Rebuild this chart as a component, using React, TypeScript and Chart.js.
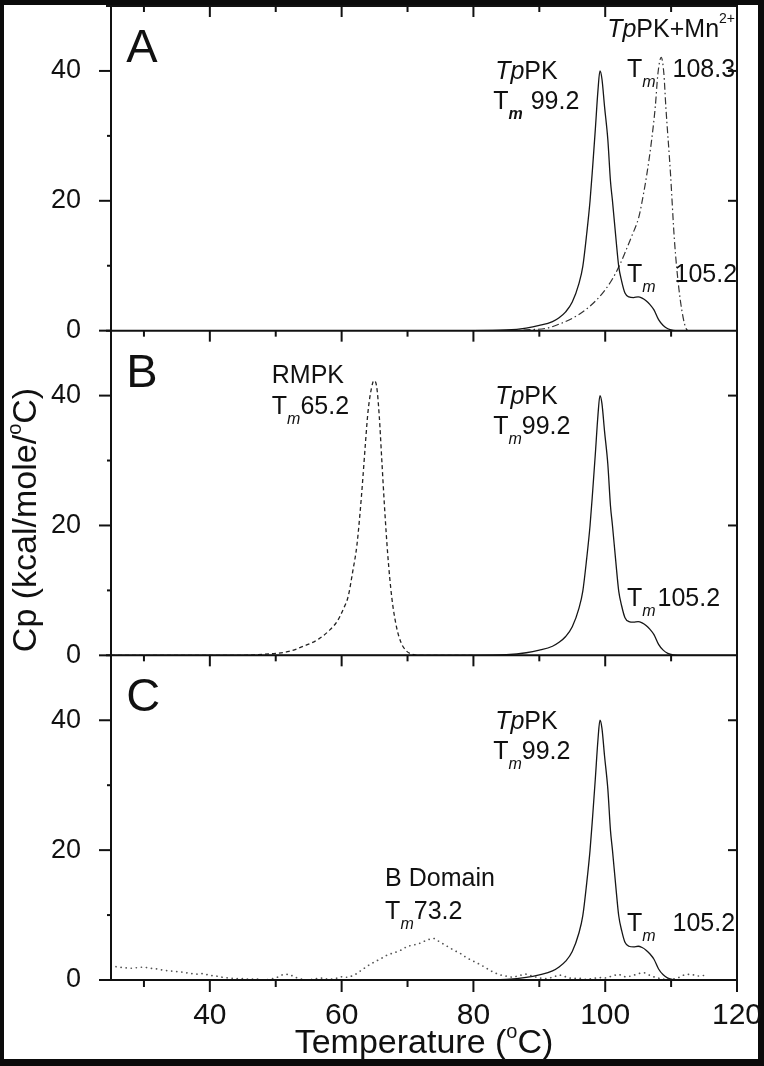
import React, { useEffect, useRef } from "react";
import { Chart, registerables } from "chart.js";

Chart.register(...registerables);

// ---------- data ----------
const xTickValues = [40, 60, 80, 100, 120];
const xMinorTickValues = [30, 50, 70, 90, 110];
const yTickValues = [0, 20, 40];
const yMinorTickValues = [10, 30];

// TpPK (solid, same trace in all three panels)
const tppkT = [25, 80, 85, 88, 90, 92, 93, 94, 95, 96, 96.6, 97.2, 97.7, 98.1, 98.5, 98.9, 99.2, 99.5, 99.9, 100.4, 100.8, 101.1, 101.6, 102.05, 102.5, 103, 103.6, 104.3, 105, 105.6, 106.2, 106.8, 107.4, 108.1, 108.8, 109.5, 110.3, 111, 120];
const tppkCp = [0, 0, 0.1, 0.4, 0.8, 1.4, 2.0, 2.9, 4.4, 7.2, 9.9, 15, 20, 25.3, 31, 37, 40, 38.8, 34.5, 29.4, 23, 20, 14.5, 9.9, 7.6, 5.8, 5.2, 5.1, 5.2, 5.0, 4.6, 4.0, 3.2, 1.7, 0.8, 0.3, 0.05, 0, 0];

// TpPK + Mn2+ (dash-dot, panel A)
const mnT = [70, 85, 88.6, 91.2, 93, 95, 97, 98.75, 100, 101, 102.1, 103, 104, 105.1, 105.8, 106.35, 107, 107.6, 108, 108.5, 108.9, 109.2, 109.9, 110.5, 111.2, 112, 112.6, 114];
const mnCp = [0, 0, 0.15, 0.4, 1.0, 1.9, 3.2, 4.8, 6.3, 7.8, 9.9, 12, 14.5, 17.5, 21, 24.3, 29, 34.5, 39.6, 42.1, 39.6, 34.5, 24.3, 14, 6.3, 1.2, 0, 0];

// RMPK (dashed, panel B)
const rmpkT = [25, 45, 48, 50, 52, 54.2, 56.5, 58.3, 59.3, 60.2, 61, 61.7, 62.3, 62.8, 63.2, 63.6, 64.0, 64.5, 64.9, 65.3, 65.7, 66.1, 66.5, 67, 67.6, 68.3, 69, 69.8, 70.6, 71.5, 80];
const rmpkCp = [0, 0, 0.15, 0.3, 0.6, 1.4, 2.5, 4, 5.2, 7, 9.1, 13, 16.8, 22, 27, 32.5, 37.5, 41, 42.3, 41.5, 37, 30, 23, 15.5, 9, 4.5, 2, 0.7, 0.2, 0, 0];

// B Domain (dotted, panel C)
const bdomT = [25, 26, 27, 28, 29, 30, 31, 32, 33, 34, 35, 36, 37, 38, 39, 40, 41, 42, 43, 44, 45, 46, 47, 48, 49, 50, 51, 52, 53, 54, 55, 56, 57, 58, 59, 60, 61, 62, 63, 64, 65, 66, 67, 68, 69, 70, 71, 72, 73, 74, 75, 76, 77, 78, 79, 80, 81, 82, 83, 84, 85, 86, 87, 88, 89, 90, 91, 92, 93, 94, 95, 96, 97, 98, 99, 100, 101, 102, 103, 104, 105, 106, 107, 108, 109, 110, 111, 112, 113, 114, 115];
const bdomCp = [2.2, 2.0, 1.9, 1.8, 1.9, 2.0, 1.8, 1.7, 1.5, 1.4, 1.3, 1.2, 1.0, 0.9, 1.0, 0.7, 0.6, 0.4, 0.3, 0.2, 0.2, 0.1, 0.2, 0.0, 0.1, 0.3, 0.8, 0.9, 0.4, 0.1, 0.0, 0.2, 0.3, 0.1, 0.2, 0.5, 0.4, 0.8, 1.5, 2.2, 2.8, 3.3, 3.9, 4.2, 4.6, 5.2, 5.4, 5.7, 6.2, 6.4, 5.8, 5.2, 4.6, 4.1, 3.4, 2.9, 2.4, 1.8, 1.2, 0.8, 0.6, 0.4, 0.7, 0.9, 0.6, 0.3, 0.2, 0.4, 0.8, 0.5, 0.2, 0.3, 0.1, 0.2, 0.4, 0.3, 0.6, 0.9, 0.5, 0.6, 1.0, 1.1, 0.6, 0.3, 0.1, 0.1, 0.3, 0.8, 0.9, 0.6, 0.7];

// ---------- styling ----------
const FONT = "'Liberation Sans', Arial, Helvetica, sans-serif";
const N = `25px ${FONT}`;
const I = `italic 25px ${FONT}`;
const M = `italic 16px ${FONT}`;
const MB = `italic bold 16px ${FONT}`;
const SUP = `14px ${FONT}`;
const LET = `47px ${FONT}`;

type Part = { t: string; f: string; dy?: number; gap?: number };

const tm = (num: string, gap: number, bold = false): Part[] => [
  { t: "T", f: N },
  { t: "m", f: bold ? MB : M, dy: 10 },
  { t: num, f: N, gap },
];
const tppkLbl: Part[] = [
  { t: "Tp", f: I },
  { t: "PK", f: N },
];

const annotations: [string, number, number, Part[]][] = [
  ["yA", 27.3, 41.4, [{ t: "A", f: LET }]],
  ["yA", 83.3, 38.7, tppkLbl],
  ["yA", 83.0, 34.1, tm("99.2", 8, true)],
  ["yA", 100.3, 45.15, [...tppkLbl, { t: "+Mn", f: N }, { t: "2+", f: SUP, dy: -14 }]],
  ["yA", 103.3, 39.1, tm("108.3", 17)],
  ["yA", 103.3, 7.55, tm("105.2", 19)],
  ["yB", 27.3, 41.4, [{ t: "B", f: LET }]],
  ["yB", 49.4, 42.0, [{ t: "RMPK", f: N }]],
  ["yB", 49.4, 37.1, tm("65.2", 0)],
  ["yB", 83.3, 38.7, tppkLbl],
  ["yB", 83.0, 34.1, tm("99.2", 0)],
  ["yB", 103.3, 7.55, tm("105.2", 2)],
  ["yC", 27.3, 41.4, [{ t: "C", f: LET }]],
  ["yC", 83.3, 38.7, tppkLbl],
  ["yC", 83.0, 34.1, tm("99.2", 0)],
  ["yC", 66.6, 14.5, [{ t: "B Domain", f: N }]],
  ["yC", 66.6, 9.4, tm("73.2", 0)],
  ["yC", 103.3, 7.55, tm("105.2", 17)],
];

function drawParts(ctx: CanvasRenderingContext2D, x: number, y: number, parts: Part[]) {
  let cx = x;
  for (const p of parts) {
    ctx.font = p.f;
    cx += p.gap || 0;
    ctx.fillText(p.t, cx, y + (p.dy || 0));
    cx += ctx.measureText(p.t).width;
  }
}
function partsWidth(ctx: CanvasRenderingContext2D, parts: Part[]) {
  let w = 0;
  for (const p of parts) {
    ctx.font = p.f;
    w += (p.gap || 0) + ctx.measureText(p.t).width;
  }
  return w;
}

const framePlugin = {
  id: "frame",
  beforeDraw(chart: any) {
    const { ctx, width, height } = chart;
    ctx.save();
    ctx.fillStyle = "#0b0b0b";
    ctx.fillRect(0, 0, width, height);
    ctx.fillStyle = "#ffffff";
    ctx.fillRect(4, 5, 754, 1054);
    ctx.restore();
  },
  afterDraw(chart: any) {
    const ctx: CanvasRenderingContext2D = chart.ctx;
    const xs = chart.scales.x;
    const panels = ["yA", "yB", "yC"].map((id) => chart.scales[id]);
    const left = xs.left;
    const right = xs.right;
    const top = Math.min(...panels.map((p: any) => p.top));
    const bottom = Math.max(...panels.map((p: any) => p.bottom));
    ctx.save();
    ctx.strokeStyle = "#111";
    ctx.lineWidth = 2;
    const line = (x1: number, y1: number, x2: number, y2: number) => {
      ctx.beginPath();
      ctx.moveTo(x1, y1);
      ctx.lineTo(x2, y2);
      ctx.stroke();
    };
    line(left, top - 1, left, bottom + 1);
    line(right, top - 1, right, bottom + 1);
    const hLines = [...panels.map((p: any) => p.top), bottom];
    hLines.forEach((yy, k) => {
      line(left - 5, yy, right, yy);
      const isBottom = k === hLines.length - 1;
      xTickValues.forEach((v) => {
        const px = xs.getPixelForValue(v);
        line(px, yy, px, yy + (isBottom ? 12 : 11));
      });
      xMinorTickValues.forEach((v) => {
        const px = xs.getPixelForValue(v);
        line(px, yy, px, yy + (isBottom ? 7 : 6));
      });
    });
    panels.forEach((p: any) => {
      yTickValues.forEach((v) => {
        const py = p.getPixelForValue(v);
        line(left - 12, py, left, py);
        if (v > 0) line(right - 9, py, right, py);
      });
      yMinorTickValues.forEach((v) => {
        const py = p.getPixelForValue(v);
        line(left - 4, py, left, py);
      });
    });

    // annotations
    ctx.fillStyle = "#111";
    ctx.textBaseline = "alphabetic";
    ctx.textAlign = "left";
    annotations.forEach(([id, tx, ty, parts]) => {
      const sc = chart.scales[id];
      drawParts(ctx, xs.getPixelForValue(tx), sc.getPixelForValue(ty), parts);
    });

    // x title
    const xt: Part[] = [
      { t: "Temperature (", f: `34px ${FONT}` },
      { t: "o", f: `20px ${FONT}`, dy: -15 },
      { t: "C)", f: `34px ${FONT}` },
    ];
    const wx = partsWidth(ctx, xt);
    drawParts(ctx, (left + right) / 2 - wx / 2, 1053, xt);

    // y title
    const yt: Part[] = [
      { t: "Cp (kcal/mole/", f: `34px ${FONT}` },
      { t: "o", f: `20px ${FONT}`, dy: -15 },
      { t: "C)", f: `34px ${FONT}` },
    ];
    const wy = partsWidth(ctx, yt);
    ctx.save();
    ctx.translate(36, 520);
    ctx.rotate(-Math.PI / 2);
    drawParts(ctx, -wy / 2, 0, yt);
    ctx.restore();
    ctx.restore();
  },
};

const pts = (T: number[], C: number[]) => T.map((t, i) => ({ x: t, y: C[i] }));

const yAxis = (weight: number) => ({
  type: "linear" as const,
  position: "left" as const,
  stack: "cp",
  stackWeight: 1,
  weight,
  offset: false,
  min: 0,
  max: 50,
  grid: { display: false },
  border: { display: false },
  afterBuildTicks: (s: any) => {
    s.ticks = yTickValues.map((v) => ({ value: v }));
  },
  afterFit: (s: any) => {
    s.width = 60;
    s.paddingTop = 0;
    s.paddingBottom = 0;
    s.paddingLeft = 0;
    s.paddingRight = 0;
  },
  ticks: {
    padding: 22,
    color: "#111",
    font: { size: 27, family: FONT },
  },
});

export default function App() {
  const ref = useRef<HTMLCanvasElement | null>(null);
  useEffect(() => {
    if (!ref.current) return;
    const solid = { borderColor: "#161616", borderWidth: 1.3, pointRadius: 0, fill: false, cubicInterpolationMode: "monotone" as const };
    const chart = new Chart(ref.current, {
      type: "line",
      data: {
        datasets: [
          { ...solid, data: pts(tppkT, tppkCp), yAxisID: "yA" },
          { ...solid, data: pts(mnT, mnCp), yAxisID: "yA", borderColor: "#333", borderWidth: 1.2, borderDash: [7, 3, 1.5, 3] },
          { ...solid, data: pts(rmpkT, rmpkCp), yAxisID: "yB", borderColor: "#222", borderDash: [4, 3] },
          { ...solid, data: pts(tppkT, tppkCp), yAxisID: "yB" },
          { ...solid, data: pts(bdomT, bdomCp), yAxisID: "yC", borderColor: "#555", borderWidth: 1.7, borderDash: [0.1, 5], borderCapStyle: "round", cubicInterpolationMode: "default", tension: 0 },
          { ...solid, data: pts(tppkT, tppkCp), yAxisID: "yC" },
        ] as any,
      },
      options: {
        animation: false,
        responsive: false,
        maintainAspectRatio: false,
        events: [],
        layout: { padding: { left: 51, right: 27, top: 6, bottom: 0 } },
        plugins: { legend: { display: false }, tooltip: { enabled: false }, title: { display: false } },
        elements: { point: { radius: 0 } },
        scales: {
          x: {
            type: "linear",
            min: 25,
            max: 120,
            grid: { display: false },
            border: { display: false },
            afterBuildTicks: (s: any) => {
              s.ticks = xTickValues.map((v) => ({ value: v }));
            },
            afterFit: (s: any) => {
              s.height = 86;
              s.paddingLeft = 0;
              s.paddingRight = 0;
              s.paddingTop = 0;
              s.paddingBottom = 0;
            },
            ticks: { padding: 10, color: "#111", font: { size: 30, family: FONT }, maxRotation: 0 },
          },
          yA: yAxis(3),
          yB: yAxis(2),
          yC: yAxis(1),
        } as any,
      },
      plugins: [framePlugin],
    });
    return () => chart.destroy();
  }, []);
  return (
    <div style={{ position: "absolute", left: 0, top: 0, width: 764, height: 1066 }}>
      <canvas ref={ref} width={764} height={1066} style={{ display: "block", width: 764, height: 1066 }} />
    </div>
  );
}
